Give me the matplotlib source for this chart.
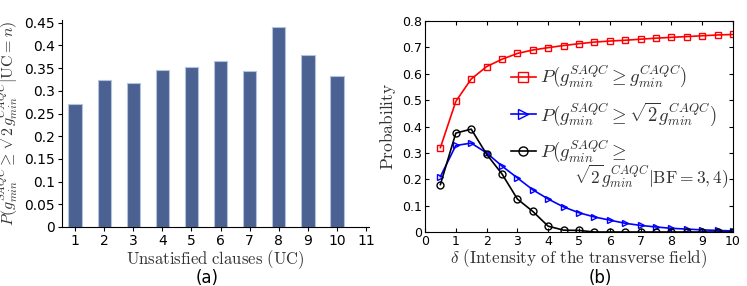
import numpy as np
import matplotlib.pyplot as plt

plt.rcParams['mathtext.fontset'] = 'cm'
plt.rcParams['font.family'] = 'DejaVu Sans'

# panel (a)
uc = [1, 2, 3, 4, 5, 6, 7, 8, 9, 10]
p_uc = [0.270, 0.323, 0.317, 0.345, 0.352, 0.365, 0.344, 0.441, 0.380, 0.333]

# panel (b)
delta = [0.5, 1.0, 1.5, 2.0, 2.5, 3.0, 3.5, 4.0, 4.5, 5.0,
         5.5, 6.0, 6.5, 7.0, 7.5, 8.0, 8.5, 9.0, 9.5, 10.0]
p_ge = [0.320, 0.495, 0.580, 0.627, 0.655, 0.677, 0.690, 0.699, 0.707, 0.714,
        0.720, 0.724, 0.727, 0.731, 0.735, 0.738, 0.741, 0.744, 0.747, 0.749]
p_sqrt2 = [0.210, 0.328, 0.337, 0.300, 0.250, 0.205, 0.160, 0.125, 0.095, 0.073,
           0.057, 0.045, 0.033, 0.025, 0.019, 0.014, 0.011, 0.008, 0.006, 0.004]
p_bf = [0.180, 0.375, 0.390, 0.295, 0.220, 0.125, 0.078, 0.022, 0.007, 0.006,
        0.0, 0.0, 0.0, 0.0, 0.0, 0.0, 0.0, 0.0, 0.0, 0.0]

fig = plt.figure(figsize=(7.47, 2.86), dpi=100)

# ---- (a) ----
ax1 = fig.add_axes([62/747, 1-227/286, (369-62)/747, (227-20)/286])
ax1.bar(uc, p_uc, width=0.46, color='#4b6191', edgecolor='#b5c2de', linewidth=0.8)
ax1.set_xlim(0.55, 11.1)
ax1.set_ylim(0, 0.456)
ax1.set_xticks(range(1, 12))
ax1.set_yticks([0, 0.05, 0.1, 0.15, 0.2, 0.25, 0.3, 0.35, 0.4, 0.45])
ax1.set_yticklabels(['0', '0.05', '0.1', '0.15', '0.2', '0.25', '0.3', '0.35', '0.4', '0.45'])
ax1.spines['top'].set_visible(False)
ax1.spines['right'].set_visible(False)
ax1.tick_params(axis='both', labelsize=10, length=3, pad=2)
ax1.set_xlabel(r'$\mathrm{Unsatisfied\ clauses\ (UC)}$', fontsize=12, color='#333333', labelpad=0)
ax1.set_ylabel(r'$P(g_{min}^{SAQC} \geq \sqrt{2}g_{min}^{CAQC}|\mathrm{UC}=n)$',
               fontsize=11.5, color='#333333', labelpad=3)
fig.text(207/747, 1-278/286, '(a)', ha='center', va='center', fontsize=12)

# ---- (b) ----
ax2 = fig.add_axes([425/747, 1-232/286, (733-425)/747, (232-21)/286])
ax2.plot(delta, p_ge, color='red', marker='s', mfc='none', ms=5, lw=1.2,
         label=r'$P(g_{min}^{SAQC} \geq g_{min}^{CAQC})$')
ax2.plot(delta, p_sqrt2, color='blue', marker='>', mfc='none', ms=5, lw=1.2,
         label=r'$P(g_{min}^{SAQC} \geq \sqrt{2}g_{min}^{CAQC})$')
ax2.plot(delta, p_bf, color='black', marker='o', mfc='none', ms=5, lw=1.2,
         label=r'$P(g_{min}^{SAQC} \geq$')
ax2.set_xlim(0, 10)
ax2.set_ylim(0, 0.8)
ax2.set_xticks(range(0, 11))
ax2.set_yticks(np.arange(0, 0.81, 0.1))
ax2.set_yticklabels(['0', '0.1', '0.2', '0.3', '0.4', '0.5', '0.6', '0.7', '0.8'])
ax2.tick_params(axis='both', direction='in', top=True, right=True, labelsize=9, length=3, pad=2)
ax2.set_xlabel(r'$\delta\ \mathrm{(Intensity\ of\ the\ transverse\ field)}$', fontsize=12.3,
               color='#333333', labelpad=0)
ax2.set_ylabel(r'$\mathrm{Probability}$', fontsize=12.5, color='#333333', labelpad=3)
leg = ax2.legend(loc='upper left', bbox_to_anchor=(0.225, 0.875), frameon=False,
                 fontsize=13.5, handlelength=1.3, handletextpad=0.25, labelspacing=0.55,
                 markerscale=1.3)
for t in leg.get_texts():
    t.set_color('#333333')
# second line of the third legend entry
ax2.text(0.985, 0.265, r'$\sqrt{2}g_{min}^{CAQC}|\mathrm{BF}{=}3,4)$', transform=ax2.transAxes,
         ha='right', va='center', fontsize=12.5, color='#333333')
fig.text(600/747, 1-278/286, '(b)', ha='center', va='center', fontsize=12)

fig.savefig('out.png', dpi=100)
